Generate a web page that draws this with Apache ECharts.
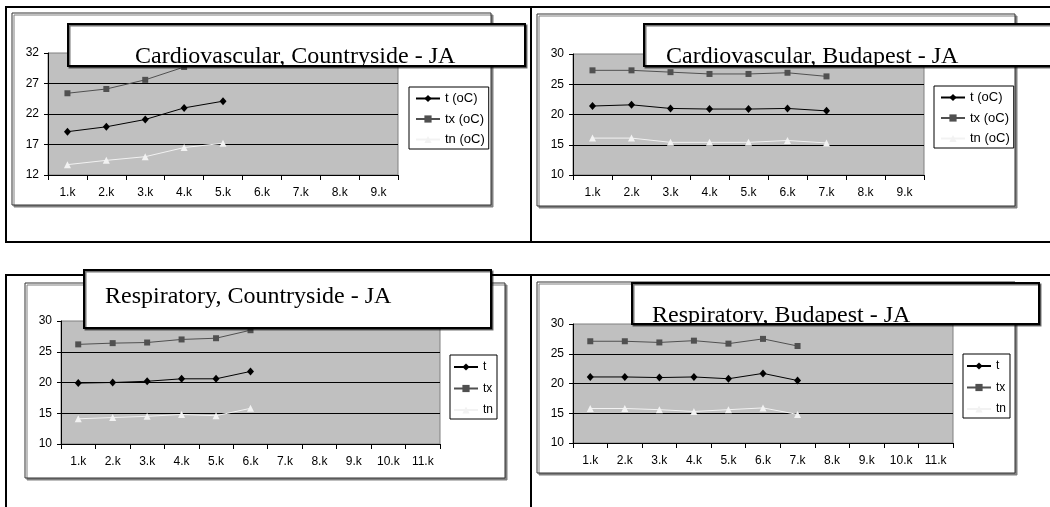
<!DOCTYPE html>
<html><head><meta charset="utf-8">
<script src="https://cdn.jsdelivr.net/npm/echarts@6/dist/echarts.min.js"></script>
<style>html,body{margin:0;padding:0;background:#fff;}#chart{width:1050px;height:507px;}</style>
</head><body><div id="chart"></div>
<script>
// ---------- data ----------
const cats9 = ['1.k','2.k','3.k','4.k','5.k','6.k','7.k','8.k','9.k'];
const cats11 = ['1.k','2.k','3.k','4.k','5.k','6.k','7.k','8.k','9.k','10.k','11.k'];
const titles = ['Cardiovascular, Countryside - JA','Cardiovascular, Budapest - JA','Respiratory, Countryside - JA','Respiratory, Budapest - JA'];
const namesCardio = ['t (oC)','tx (oC)','tn (oC)'];
const namesResp = ['t','tx','tn'];
const yMins = [12, 10, 10, 10];
const yMaxs = [32, 30, 30, 30];
const yStep = 5;

const cardioCountryT  = [19.1, 19.9, 21.1, 23.0, 24.1];
const cardioCountryTx = [25.4, 26.1, 27.6, 29.7, 30.8];
const cardioCountryTn = [13.7, 14.4, 15.0, 16.5, 17.2];

const cardioBudaT  = [21.4, 21.6, 21.0, 20.9, 20.9, 21.0, 20.6];
const cardioBudaTx = [27.3, 27.3, 27.0, 26.7, 26.7, 26.9, 26.3];
const cardioBudaTn = [16.1, 16.1, 15.4, 15.4, 15.4, 15.7, 15.3];

const respCountryT  = [19.9, 20.0, 20.2, 20.6, 20.6, 21.8];
const respCountryTx = [26.2, 26.4, 26.5, 27.0, 27.2, 28.5];
const respCountryTn = [14.1, 14.3, 14.5, 14.8, 14.6, 15.8];

const respBudaT  = [21.1, 21.1, 21.0, 21.1, 20.8, 21.7, 20.5];
const respBudaTx = [27.1, 27.1, 26.9, 27.2, 26.7, 27.5, 26.3];
const respBudaTn = [15.8, 15.8, 15.6, 15.3, 15.6, 15.9, 14.8];

// ---------- layout ----------
const panelData = [
  {cats: cats9,  names: namesCardio, series: [cardioCountryT, cardioCountryTx, cardioCountryTn]},
  {cats: cats9,  names: namesCardio, series: [cardioBudaT, cardioBudaTx, cardioBudaTn]},
  {cats: cats11, names: namesResp,   series: [respCountryT, respCountryTx, respCountryTn]},
  {cats: cats11, names: namesResp,   series: [respBudaT, respBudaTx, respBudaTn]}
];
const layout = [
  {grid:{left:48, top:53, width:350, height:122}, box:[12,13,479,192], tbox:[68,24,457,42], tx:135, base:64.5,
   legend:{left:409, top:87, padding:[5,4,3,6], itemWidth:24, itemGap:7.5}, lfont:13},
  {grid:{left:573, top:54, width:351, height:121}, box:[537,14,478,192], tbox:[644,24,420,42], tx:666, base:64.5,
   legend:{left:934, top:86, padding:[5,4,3,6], itemWidth:24, itemGap:7.5}, lfont:13},
  {grid:{left:61, top:321, width:379, height:123}, box:[25,283,480,195], tbox:[84,270,407,58], tx:105, base:305,
   legend:{left:450, top:355, padding:[6,4,3,3], itemWidth:24, itemGap:9.5}, lfont:12},
  {grid:{left:573, top:324, width:380, height:119}, box:[537,282,478,191], tbox:[632,283,407,41], tx:652, base:323.5,
   legend:{left:963, top:354, padding:[6,4,3,3], itemWidth:24, itemGap:9.5}, lfont:12}
];
const looks = [
  {symbol:'diamond', size:[7,8], color:'#000000'},
  {symbol:'rect', size:6, color:'#505050'},
  {symbol:'triangle', size:7, color:'#f2f2f2'}
];
const FONT = '"Liberation Sans", Arial, sans-serif';

const grids = [], xAxes = [], yAxes = [], series = [], legends = [];
layout.forEach(function(L, i){
  const P = panelData[i];
  grids.push(Object.assign({show:true, backgroundColor:'#c0c0c0', borderColor:'#808080', borderWidth:1, containLabel:false}, L.grid));
  xAxes.push({type:'category', gridIndex:i, data:P.cats, boundaryGap:true,
    axisLine:{show:true, lineStyle:{color:'#000', width:1}},
    axisTick:{show:true, interval:0, length:5, lineStyle:{color:'#000'}},
    axisLabel:{interval:0, margin:12, color:'#000', fontSize:12, fontFamily:FONT},
    splitLine:{show:false}});
  yAxes.push({type:'value', gridIndex:i, min:yMins[i], max:yMaxs[i], interval:yStep,
    axisLine:{show:true, lineStyle:{color:'#000', width:1}},
    axisTick:{show:true, length:4, lineStyle:{color:'#000'}},
    axisLabel:{margin:9, color:'#000', fontSize:12, fontFamily:FONT},
    splitLine:{show:true, showMaxLine:false, showMinLine:false, lineStyle:{color:'#000', width:1}}});
  P.series.forEach(function(d, k){
    const lk = looks[k];
    series.push({type:'line', name:P.names[k], xAxisIndex:i, yAxisIndex:i, data:d,
      symbol:lk.symbol, symbolSize:lk.size, showSymbol:true, z:3,
      itemStyle:{color:lk.color, borderWidth:0},
      lineStyle:{color:lk.color, width:1}, emphasis:{disabled:true}});
  });
  legends.push(Object.assign({orient:'vertical', data:P.names, selectedMode:false,
    backgroundColor:'#fff', borderColor:'#000', borderWidth:1, itemHeight:9,
    textStyle:{color:'#000', fontSize:L.lfont, fontFamily:FONT}}, L.legend));
});

// frames behind the charts
const frameEls = [
  {type:'rect', z:-20, shape:{x:6, y:7, width:1060, height:235}, style:{fill:'#fff', stroke:'#000', lineWidth:2}},
  {type:'line', z:-19, shape:{x1:531, y1:7, x2:531, y2:242}, style:{stroke:'#000', lineWidth:2}},
  {type:'rect', z:-20, shape:{x:6, y:275, width:1060, height:260}, style:{fill:'#fff', stroke:'#000', lineWidth:2}},
  {type:'line', z:-19, shape:{x1:531, y1:275, x2:531, y2:520}, style:{stroke:'#000', lineWidth:2}}
];
layout.forEach(function(L){
  frameEls.push({type:'rect', z:-10, shape:{x:L.box[0], y:L.box[1], width:L.box[2], height:L.box[3]},
    style:{fill:'#fff', stroke:'#333', lineWidth:1, shadowColor:'#808080', shadowOffsetX:2, shadowOffsetY:2, shadowBlur:0}});
});

// titles (on top, text clipped by its box)
series.push({type:'custom', coordinateSystem:'none', silent:true, z:20, data:[[0]],
  renderItem:function(){
    return {type:'group', children: layout.map(function(L, i){
      const b = L.tbox;
      return {type:'group', children:[
        {type:'rect', shape:{x:b[0], y:b[1], width:b[2], height:b[3]},
         style:{fill:'#fff', stroke:'#000', lineWidth:2, shadowColor:'rgba(0,0,0,0.55)', shadowOffsetX:1.5, shadowOffsetY:1.5, shadowBlur:0}},
        {type:'group', clipPath:{type:'rect', shape:{x:b[0]+1, y:b[1]+1, width:b[2]-2, height:b[3]-2}},
         children:[{type:'text', x:L.tx, y:L.base-8,
           style:{text:titles[i], font:'24px "Liberation Serif", "Times New Roman", serif', fill:'#000', align:'left', verticalAlign:'middle'}}]}
      ]};
    })};
  }});

const chart = echarts.init(document.getElementById('chart'), null, {renderer:'canvas'});
chart.setOption({
  animation:false,
  backgroundColor:'#fff',
  grid:grids, xAxis:xAxes, yAxis:yAxes, legend:legends, series:series,
  graphic:{elements:frameEls}
});
</script></body></html>
